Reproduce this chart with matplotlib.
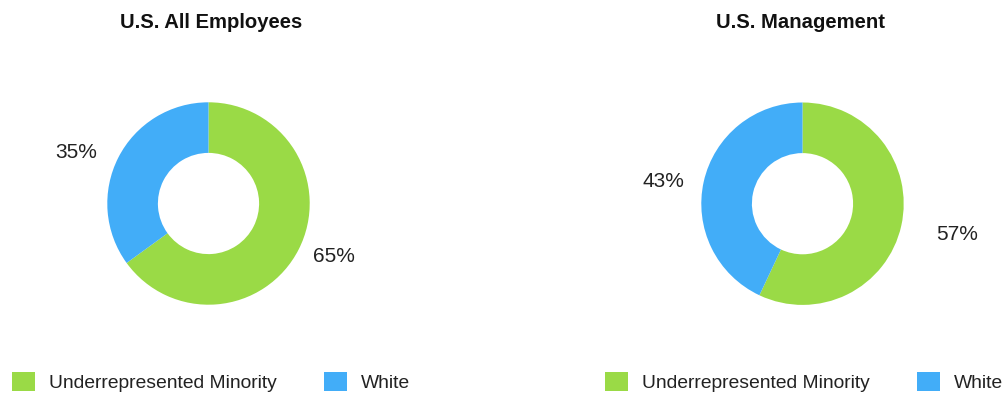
import matplotlib
matplotlib.use("Agg")
import matplotlib.pyplot as plt
from matplotlib.patches import Patch
import numpy as np

# ---- data ----
chart_titles = ["U.S. All Employees", "U.S. Management"]
categories = ["Underrepresented Minority", "White"]
all_employees = [65, 35]
management = [57, 43]
series = [all_employees, management]

# ---- style ----
colors = ["#9ADA46", "#42ADF8"]
W, H = 1007, 397
plt.rcParams['font.family'] = ['Liberation Sans', 'DejaVu Sans']

label_size = 15
legend_size = 13.9
em = legend_size * 100 / 72.0

fig = plt.figure(figsize=(W / 100, H / 100), dpi=100)

centers = [(208.5, 203.5), (802.5, 203.7)]
R = 101.2
# label placement per chart (radial distance in radii, angular shift in degrees)
label_dist = [[1.347, 1.40], [1.557, 1.388]]
label_shift = [[4.2, 5.8], [1.2, 3.6]]
title_x = [211, 800.5]
legend_x = [12, 605]

for i, vals in enumerate(series):
    cx, cy = centers[i]
    ax = fig.add_axes([(cx - R) / W, (H - cy - R) / H, 2 * R / W, 2 * R / H])
    wedges, _ = ax.pie(vals, colors=colors, startangle=90, counterclock=False,
                       radius=1.0, wedgeprops=dict(width=0.5, linewidth=0))
    ax.set_xlim(-1, 1)
    ax.set_ylim(-1, 1)
    ax.set_aspect('equal')
    ax.axis('off')
    for j, w in enumerate(wedges):
        mid = np.deg2rad((w.theta1 + w.theta2) / 2 + label_shift[i][j])
        d = label_dist[i][j]
        ax.text(d * np.cos(mid), d * np.sin(mid), f"{vals[j]}%",
                ha='center', va='center', fontsize=label_size, color='#222222',
                clip_on=False)
    fig.text(title_x[i] / W, (H - 28.3) / H, chart_titles[i], ha='center',
             va='baseline', fontsize=14.6, fontweight='bold', color='#111111')
    handles = [Patch(facecolor=c, edgecolor='none') for c in colors]
    fig.legend(handles, categories, loc='center left',
               bbox_to_anchor=(legend_x[i] / W, (H - 382) / H),
               ncol=2, frameon=False,
               prop=dict(size=legend_size), borderpad=0,
               borderaxespad=0, handlelength=23 / em, handleheight=21 / em,
               handletextpad=14 / em, columnspacing=47 / em,
               labelcolor='#222222')

fig.savefig("out.png", dpi=100)
